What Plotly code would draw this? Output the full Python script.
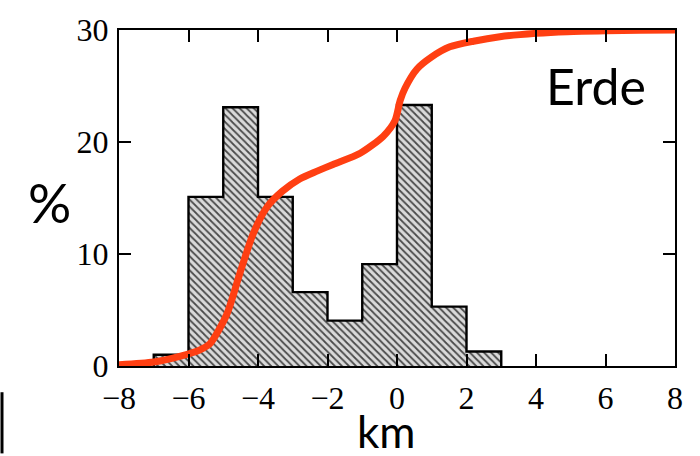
import plotly.graph_objects as go

# Histogram of elevation (1 km bins) and cumulative hypsometric curve
bin_edges = [-7, -6, -5, -4, -3, -2, -1, 0, 1, 2, 3]
bin_pct = [1.0, 15.1, 23.1, 15.1, 6.6, 4.05, 9.1, 23.3, 5.3, 1.3]

curve_km = [-8, -7, -6.2, -5.7, -5.38, -4.9, -4.52, -4.14, -3.74, -3.3, -2.8,
            -2.3, -1.84, -1.06, -0.4, -0.06, 0.09, 0.23, 0.57, 1.0, 1.52, 2.2,
            2.96, 4.0, 4.9, 6.0, 7.0, 8.0]
curve_pct = [0.1, 0.35, 0.9, 1.4, 2.0, 4.6, 8.3, 11.8, 14.2, 15.6, 16.7,
             17.4, 18.0, 19.0, 20.5, 21.9, 23.7, 24.8, 26.5, 27.6, 28.5, 29.0,
             29.4, 29.7, 29.85, 29.93, 29.97, 30.0]

x_ticks = [-8, -6, -4, -2, 0, 2, 4, 6, 8]
y_ticks = [0, 10, 20, 30]

centers = [(a + b) / 2 for a, b in zip(bin_edges[:-1], bin_edges[1:])]
widths = [b - a for a, b in zip(bin_edges[:-1], bin_edges[1:])]

fig = go.Figure()

# hatched bars
fig.add_trace(go.Bar(
    x=centers, y=bin_pct, width=widths,
    marker=dict(
        color="#d6d6d6",
        line=dict(width=0),
        pattern=dict(shape="\\", fgcolor="#4a4a4a", bgcolor="#dadada",
                     size=5, solidity=0.35, fillmode="replace"),
    ),
    hoverinfo="skip",
))

# step outline around the histogram
step_x = [bin_edges[0]] + bin_edges[:-1] + [bin_edges[-1]]
step_y = [0] + bin_pct + [0]
fig.add_trace(go.Scatter(
    x=step_x, y=step_y, mode="lines",
    line=dict(color="black", width=2.4, shape="hv"),
    hoverinfo="skip",
))

# cumulative curve
fig.add_trace(go.Scatter(
    x=curve_km, y=curve_pct, mode="lines",
    line=dict(color="#ff3f12", width=7, shape="spline", smoothing=0.7),
    cliponaxis=False,
    hoverinfo="skip",
))

serif = dict(family="Liberation Serif", size=32, color="black")
sans = "Lato"


def px_x(p):
    return (p - 119) / 556


def px_y(p):
    return (366 - p) / 346


fig.update_layout(
    width=700, height=456,
    margin=dict(l=119, r=25, t=20, b=90),
    paper_bgcolor="white", plot_bgcolor="white",
    showlegend=False,
    bargap=0,
    xaxis=dict(
        range=[-8, 8], tickvals=x_ticks,
        ticks="inside", ticklen=12, tickwidth=2, tickcolor="black",
        showline=True, linewidth=2, linecolor="black", mirror="ticks",
        showgrid=False, zeroline=False,
        tickfont=serif, ticklabelstandoff=3,
    ),
    yaxis=dict(
        range=[0, 30], tickvals=y_ticks,
        ticks="inside", ticklen=12, tickwidth=2, tickcolor="black",
        showline=True, linewidth=2, linecolor="black", mirror="ticks",
        showgrid=False, zeroline=False,
        tickfont=serif, ticklabelstandoff=2,
    ),
    annotations=[
        dict(text="%", xref="paper", yref="paper", x=px_x(49), y=px_y(198),
             xanchor="center", yanchor="middle", showarrow=False,
             font=dict(family=sans, size=54, color="black")),
        dict(text="km", xref="paper", yref="paper", x=px_x(386), y=px_y(433),
             xanchor="center", yanchor="middle", showarrow=False,
             font=dict(family=sans, size=44, color="black")),
        dict(text="Erde", xref="paper", yref="paper", x=px_x(596), y=px_y(78),
             xanchor="center", yanchor="middle", showarrow=False,
             font=dict(family=sans, size=50, color="black")),
    ],
    shapes=[
        dict(type="line", xref="paper", yref="paper",
             x0=px_x(2), x1=px_x(2), y0=px_y(393), y1=px_y(456),
             line=dict(color="black", width=3)),
    ],
)

fig.write_html("out.html")
